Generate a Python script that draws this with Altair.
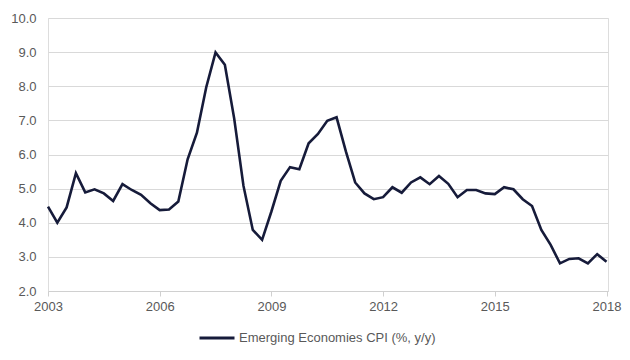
import altair as alt
import pandas as pd

start_year = 2003
values = [4.47, 4.00, 4.45, 5.45, 4.89, 4.98, 4.86, 4.64, 5.13, 4.96,
          4.82, 4.57, 4.37, 4.39, 4.62, 5.86, 6.64, 7.97, 8.99, 8.63,
          7.06, 5.08, 3.79, 3.50, 4.33, 5.23, 5.63, 5.57, 6.33, 6.60,
          6.99, 7.09, 6.09, 5.18, 4.86, 4.69, 4.75, 5.04, 4.88, 5.18,
          5.33, 5.13, 5.37, 5.14, 4.75, 4.96, 4.96, 4.86, 4.84, 5.04,
          4.98, 4.69, 4.49, 3.79, 3.35, 2.81, 2.94, 2.96, 2.81, 3.08,
          2.86]
series_name = "Emerging Economies CPI (%, y/y)"
x_ticks = [2003, 2006, 2009, 2012, 2015, 2018]
y_ticks = [2, 3, 4, 5, 6, 7, 8, 9, 10]

df = pd.DataFrame({
    "year": [start_year + i / 4 for i in range(len(values))],
    "cpi": values,
    "series": [series_name] * len(values),
})

font = "Liberation Sans"
label_color = "#595959"

chart = alt.Chart(df).mark_line(strokeWidth=2.6, color="#161b3a").encode(
    x=alt.X("year:Q",
            scale=alt.Scale(domain=[2003, 2018.04], nice=False, zero=False),
            axis=alt.Axis(values=x_ticks, format="d", title=None, grid=False,
                          domainColor="#d0d0d0", tickColor="#d0d0d0", tickSize=5,
                          labelColor=label_color, labelFont=font, labelFontSize=13,
                          labelPadding=4, labelFlush=False)),
    y=alt.Y("cpi:Q",
            scale=alt.Scale(domain=[2, 10], nice=False, zero=False),
            axis=alt.Axis(values=y_ticks, format=".1f", title=None,
                          domain=False, ticks=False, gridColor="#d9d9d9",
                          labelColor=label_color, labelFont=font, labelFontSize=13,
                          labelPadding=12)),
    color=alt.Color("series:N",
                    scale=alt.Scale(range=["#161b3a"]),
                    legend=alt.Legend(title=None, orient="none", legendX=150, legendY=301,
                                      direction="horizontal",
                                      symbolType="stroke", symbolSize=1225,
                                      symbolStrokeWidth=3, labelFont=font,
                                      labelFontSize=13, labelColor=label_color,
                                      labelLimit=0, labelOffset=3)),
).properties(
    width=560, height=273,
    autosize=alt.AutoSizeParams(type="none"),
    padding={"left": 40, "top": 10, "right": 14, "bottom": 60},
).configure_view(stroke=None).configure(background="white")

chart.save("out.html", embed_options={"renderer": "svg", "actions": False})
